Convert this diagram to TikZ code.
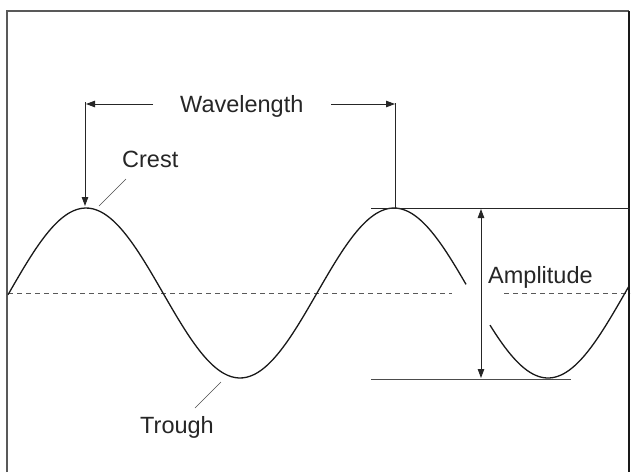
\documentclass[tikz,border=0pt]{standalone}
\usepackage{fontspec}
\setmainfont{Liberation Sans}
\usetikzlibrary{arrows.meta}
\begin{document}
\begin{tikzpicture}[x=1pt,y=-1pt,
  lbl/.style={inner sep=0pt,anchor=base west,text=black!85,font=\fontsize{23.5}{26}\selectfont},
  wave/.style={line width=1.3pt,black!90},
  guide/.style={line width=0.9pt,black!85},
  arr/.style={guide,-{Triangle[length=9pt,width=6.5pt]}},
  darr/.style={guide,{Triangle[length=9pt,width=6.5pt]}-{Triangle[length=9pt,width=6.5pt]}},
  mid/.style={line width=0.8pt,black!65,dash pattern=on 5pt off 4pt},
  leader/.style={line width=0.6pt,black!70}]
\useasboundingbox (0,0) rectangle (632,472);
\fill[white] (0,0) rectangle (632,472);
% frame
\draw[line width=1.6pt,black!65] (7,472) -- (7,11) -- (629,11);
\draw[line width=1.8pt,black!90] (629,11) -- (629,472);
% midline
\coordinate (m1) at (8,293); \coordinate (m2) at (452,293);
\coordinate (m3) at (504,293); \coordinate (m4) at (630,293);
\draw[mid] (m1) -- (m2);
\draw[mid] (m3) -- (m4);
% wave
\draw[wave] plot[domain=8:466,samples=120,smooth] (\x,{293-85*cos((\x-86)*1.168831)});
\draw[wave] plot[domain=490:629,samples=50,smooth] (\x,{293-85*cos((\x-86)*1.168831)});
% amplitude guides
\coordinate (t1) at (371,208); \coordinate (t2) at (630,208);
\coordinate (b1) at (371,379); \coordinate (b2) at (571,379);
\draw[guide] (t1) -- (t2);
\draw[line width=0.9pt,black!70] (b1) -- (b2);
\coordinate (a1) at (481,209); \coordinate (a2) at (481,378);
\draw[darr] (a1) -- (a2);
% wavelength
\coordinate (wl0) at (153,104); \coordinate (wl1) at (86,104);
\coordinate (wr0) at (331,104); \coordinate (wr1) at (395,104);
\draw[arr] (wl0) -- (wl1);
\draw[arr] (wr0) -- (wr1);
\coordinate (v1) at (85,102); \coordinate (v1b) at (85,206);
\draw[arr] (v1) -- (v1b);
\coordinate (v2) at (395,103); \coordinate (v2b) at (395,208);
\draw[guide] (v2) -- (v2b);
% leaders
\coordinate (c1) at (99,206); \coordinate (c2) at (126,179);
\draw[leader] (c1) -- (c2);
\coordinate (r1) at (221,382); \coordinate (r2) at (195,408);
\draw[leader] (r1) -- (r2);
% labels
\node[lbl] (wavelength) at (180,112) {Wavelength};
\node[lbl] (crest) at (122,167) {Crest};
\node[lbl] (trough) at (140,433) {Trough};
\node[lbl] (amplitude) at (488,283) {Amplitude};
\end{tikzpicture}
\end{document}
